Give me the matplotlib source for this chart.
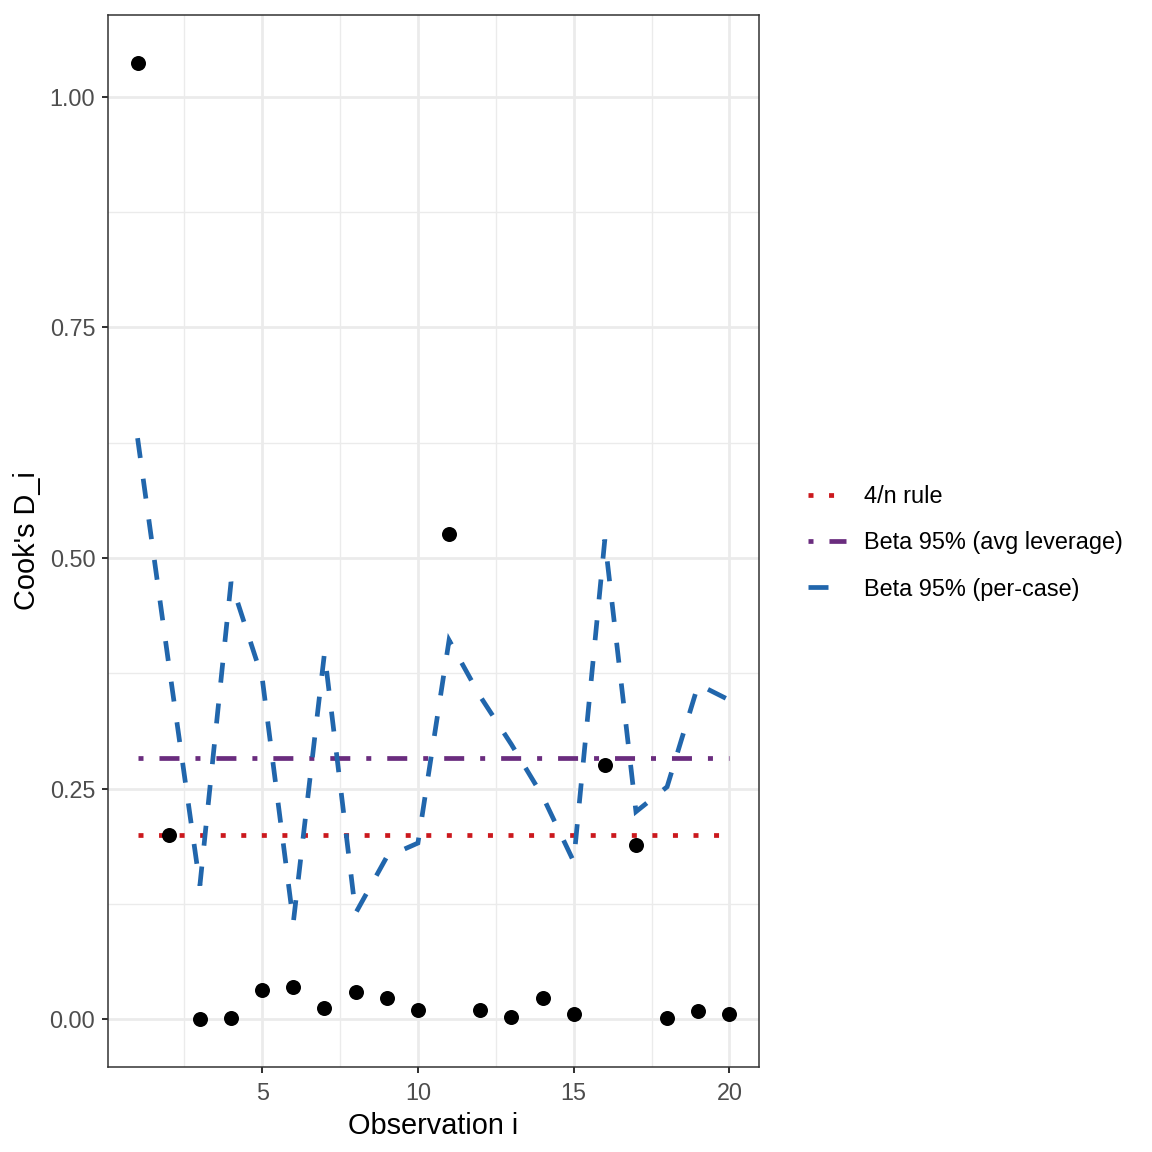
import matplotlib
matplotlib.use("Agg")
import matplotlib.pyplot as plt
from matplotlib.lines import Line2D
from matplotlib.ticker import MultipleLocator
import numpy as np

plt.rcParams['font.family'] = ['Liberation Sans', 'DejaVu Sans']
plt.rcParams['lines.scale_dashes'] = False

obs = list(range(1, 21))
cooks_d = [1.037, 0.200, 0.000, 0.001, 0.032, 0.035, 0.012, 0.029, 0.023, 0.010,
           0.526, 0.010, 0.002, 0.023, 0.006, 0.276, 0.189, 0.001, 0.009, 0.006]
rule_4n = 0.20
beta_avg = 0.2835
beta_case = [0.630, 0.385, 0.145, 0.474, 0.370, 0.105, 0.397, 0.115, 0.176, 0.191,
             0.411, 0.350, 0.298, 0.242, 0.171, 0.520, 0.225, 0.252, 0.363, 0.346]
labels = ["4/n rule", "Beta 95% (avg leverage)", "Beta 95% (per-case)"]
colors = ["#CB181D", "#6A2C7E", "#2166AC"]

W = 1152
fig = plt.figure(figsize=(11.52, 11.52), dpi=100)
ax = fig.add_axes([108 / W, 1 - 1067 / W, (759 - 108) / W, (1067 - 15) / W])

lw = 3.4
ls_red = (0, (3.6, 11.2))
ls_purple = (0, (3.6, 11.5, 14.4, 11.5))
ls_blue = (0, (14.4, 15.1))

ax.plot(obs, [rule_4n] * len(obs), color=colors[0], lw=lw, ls=ls_red,
        dash_capstyle='butt', zorder=3)
ax.plot(obs, [beta_avg] * len(obs), color=colors[1], lw=lw, ls=ls_purple,
        dash_capstyle='butt', zorder=3)
ax.plot(obs, beta_case, color=colors[2], lw=lw, ls=ls_blue,
        dash_capstyle='butt', dash_joinstyle='miter', zorder=3)
ax.plot(obs, cooks_d, 'o', color='black', ms=10.8, mew=0, zorder=4)

ax.set_xlim(0.05, 20.95)
ax.set_ylim(-0.0518, 1.0888)
ax.xaxis.set_major_locator(MultipleLocator(5))
ax.xaxis.set_minor_locator(MultipleLocator(2.5))
ax.yaxis.set_major_locator(MultipleLocator(0.25))
ax.yaxis.set_minor_locator(MultipleLocator(0.125))
ax.set_xticks([5, 10, 15, 20])
ax.set_yticks([0, 0.25, 0.5, 0.75, 1.0])
ax.set_yticklabels(["0.00", "0.25", "0.50", "0.75", "1.00"])

ax.grid(which='major', color='#EBEBEB', lw=1.95, zorder=0)
ax.grid(which='minor', color='#EBEBEB', lw=1.0, zorder=0)
ax.set_axisbelow(True)
ax.tick_params(which='major', length=4.1, width=1.45, color='#333333',
               labelsize=16.8, labelcolor='#4D4D4D', pad=5)
ax.tick_params(axis='x', which='major', pad=6.5)
ax.tick_params(which='minor', length=0)
for s in ax.spines.values():
    s.set_color('#333333')
    s.set_linewidth(1.1)

ax.set_xlabel("Observation i", fontsize=20.8, color='black', labelpad=5)
ax.set_ylabel("Cook's D_i", fontsize=20.8, color='black', labelpad=6)

handles = [
    Line2D([0], [0], color=colors[0], lw=lw, ls=ls_red, dash_capstyle='butt'),
    Line2D([0], [0], color=colors[1], lw=lw, ls=ls_purple, dash_capstyle='butt'),
    Line2D([0], [0], color=colors[2], lw=lw, ls=ls_blue, dash_capstyle='butt'),
]
fig.legend(handles, labels, loc='center left',
           bbox_to_anchor=(808 / W, 1 - 543 / W), frameon=False,
           fontsize=16.9, handlelength=1.6, handletextpad=0.78,
           labelspacing=0.98, borderpad=0, borderaxespad=0)

fig.savefig("out.png", dpi=100, facecolor='white')
